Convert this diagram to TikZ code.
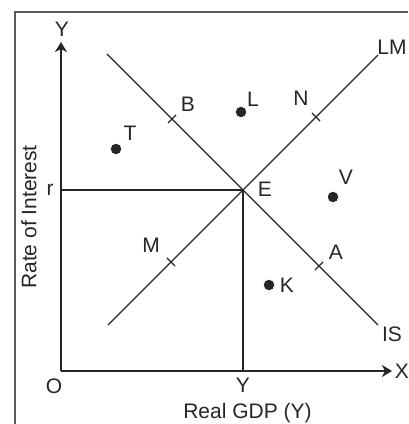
\documentclass[tikz,border=0pt]{standalone}
\usepackage{fontspec}
\setmainfont{Liberation Sans}
\usetikzlibrary{arrows.meta}
\tikzset{
	axis/.style={line width=2.8pt, ->},
	curve/.style={line width=1.4pt},
	tickmark/.style={line width=1.4pt},
	pt/.style={circle, fill, inner sep=0pt, minimum size=10.5pt}
}
\begin{document}
\begin{tikzpicture}[x=10pt, y=10pt, >={Stealth[length=10pt,width=12pt,inset=3pt]}, color=black!85, font=\fontsize{21}{24}\selectfont]
				\useasboundingbox (-6.1,-5.3) rectangle (34.7,37.1);
				\draw[line width=1.2pt, black!65] (-4.6,-5.3) -- (-4.6,35.9) -- (34.7,35.9);
				\coordinate (O) at (0,0);
				\coordinate (Ytop) at (0,32.9);
				\coordinate (Xend) at (33.1,0);
				\coordinate (E) at (18.2,18.1);
				\coordinate (r) at (0,18.1);
				\coordinate (Yq) at (18.2,0);
				\coordinate (IS1) at (4.6,31.7);
				\coordinate (IS2) at (31.7,4.6);
				\coordinate (LM1) at (4.7,4.6);
				\coordinate (LM2) at (31.7,31.6);
				\coordinate (B) at (11.1,25.2);
				\coordinate (A) at (25.8,10.5);
				\coordinate (N) at (25.5,25.4);
				\coordinate (M) at (11.0,10.9);
				\draw[axis] (O) -- (Ytop);
				\draw[axis] (O) -- (Xend);
				\draw[curve] (r) -- (E) -- (Yq);
				\draw[curve] (IS1) -- (IS2);
				\draw[curve] (LM1) -- (LM2);
				\draw[tickmark] (B) ++(-0.4,-0.4) -- ++(0.8,0.8);
				\draw[tickmark] (A) ++(-0.4,-0.4) -- ++(0.8,0.8);
				\draw[tickmark] (N) ++(-0.4,0.4) -- ++(0.8,-0.8);
				\draw[tickmark] (M) ++(-0.4,0.4) -- ++(0.8,-0.8);
				\node[pt] (T) at (5.5,22.2) {};
				\node[pt] (L) at (18.0,25.9) {};
				\node[pt] (V) at (27.2,17.4) {};
				\node[pt] (K) at (20.8,8.6) {};
				\path 
				(0.1,34.2) node (ylab) {Y}
				(34.1,0) node (xlab) {X}
				(-0.7,-1.5) node (olab) {O}
				(-1.1,18.1) node (rlab) {r}
				(18.2,-1.4) node (yqlab) {Y}
				(20.4,18.2) node (elab) {E}
				(33.1,32.4) node (lmlab) {LM}
				(33.1,3.7) node (islab) {IS}
				(12.7,26.7) node (blab) {B}
				(24.0,27.3) node (nlab) {N}
				(9.0,12.6) node (mlab) {M}
				(27.5,11.9) node (alab) {A}
				(6.9,23.8) node (tlab) {T}
				(19.2,27.2) node (llab) {L}
				(28.5,19.4) node (vlab) {V}
				(22.6,8.6) node (klab) {K};
				\node[anchor=base] (xtitle) at (18.65,-4.7) {Real GDP (Y)};
				\node[rotate=90] (ytitle) at (-3.2,15.4) {Rate of Interest};
			\end{tikzpicture}
\end{document}
